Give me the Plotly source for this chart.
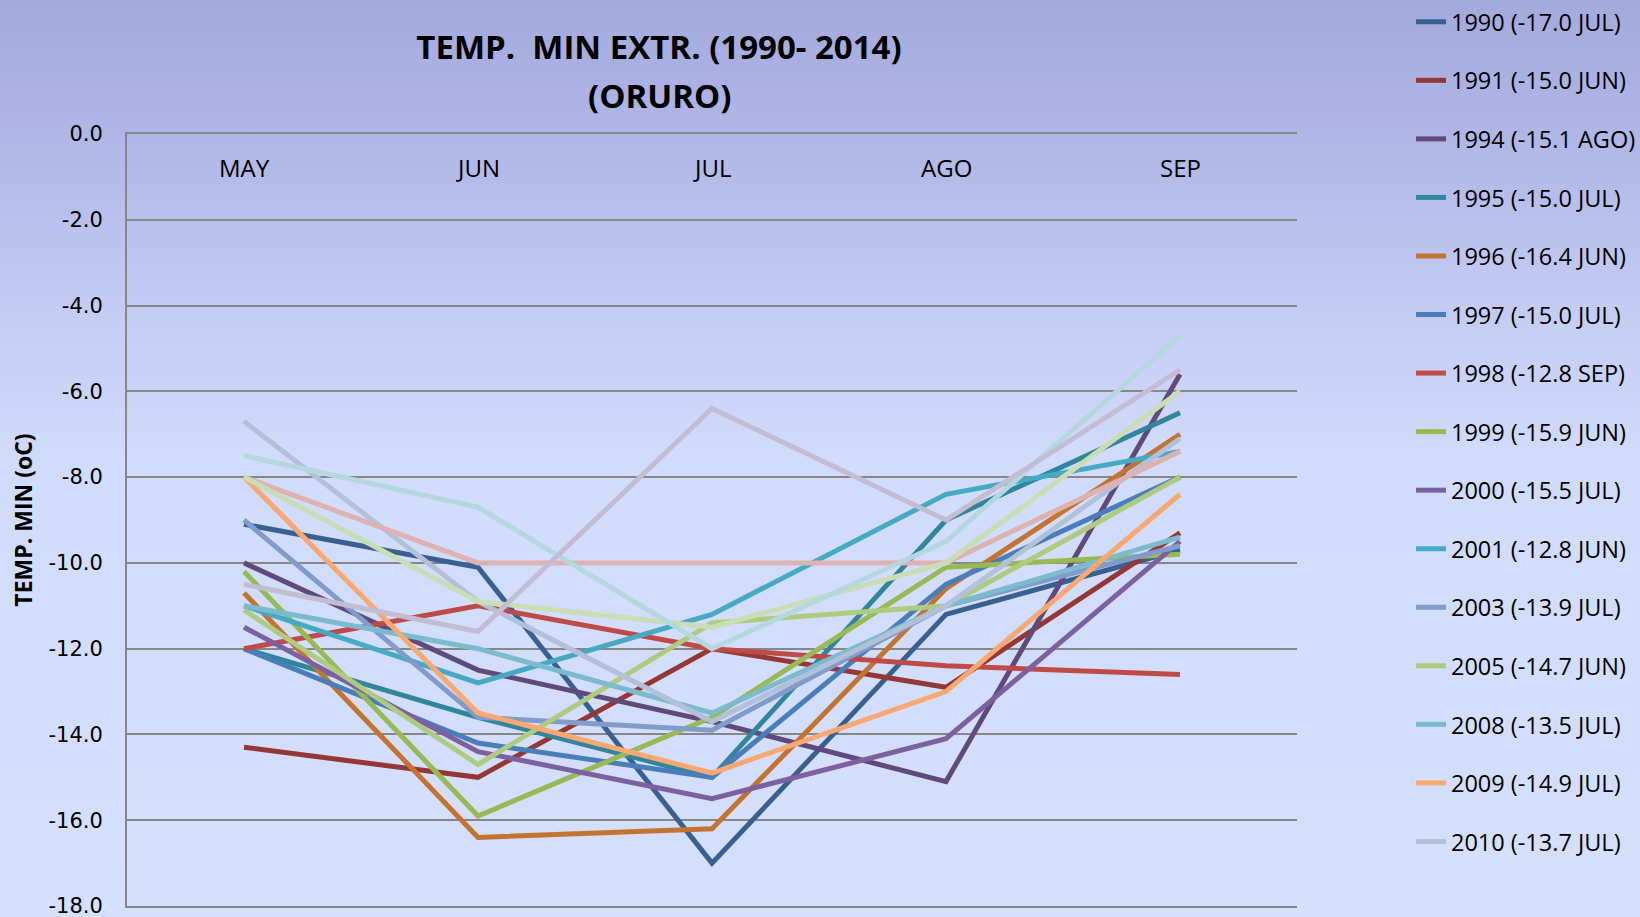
import base64
import plotly.graph_objects as go

# ---------------- data ----------------
months = ["MAY", "JUN", "JUL", "AGO", "SEP"]

series_names = [
    "1990 (-17.0 JUL)", "1991 (-15.0 JUN)", "1994 (-15.1 AGO)", "1995 (-15.0 JUL)",
    "1996 (-16.4 JUN)", "1997 (-15.0 JUL)", "1998 (-12.8 SEP)", "1999 (-15.9 JUN)",
    "2000 (-15.5 JUL)", "2001 (-12.8 JUN)", "2003 (-13.9 JUL)", "2005 (-14.7 JUN)",
    "2008 (-13.5 JUL)", "2009 (-14.9 JUL)", "2010 (-13.7 JUL)",
    "2011", "2012", "2013", "2014",
]

y1990 = [-9.1, -10.1, -17.0, -11.2, -9.7]
y1991 = [-14.3, -15.0, -12.0, -12.9, -9.3]
y1994 = [-10.0, -12.5, -13.7, -15.1, -5.6]
y1995 = [-12.0, -13.6, -15.0, -9.0, -6.5]
y1996 = [-10.7, -16.4, -16.2, -10.6, -7.0]
y1997 = [-12.0, -14.2, -15.0, -10.5, -8.0]
y1998 = [-12.0, -11.0, -12.0, -12.4, -12.6]
y1999 = [-10.2, -15.9, -13.6, -10.1, -9.8]
y2000 = [-11.5, -14.4, -15.5, -14.1, -9.5]
y2001 = [-11.0, -12.8, -11.2, -8.4, -7.4]
y2003 = [-9.0, -13.6, -13.9, -11.0, -9.6]
y2005 = [-11.1, -14.7, -11.4, -11.0, -8.0]
y2008 = [-11.0, -12.0, -13.5, -11.0, -9.4]
y2009 = [-8.0, -13.5, -14.9, -13.0, -8.4]
y2010 = [-6.7, -10.9, -13.7, -11.0, -7.1]
y2011 = [-8.0, -10.0, -10.0, -10.0, -7.4]
y2012 = [-8.0, -10.9, -11.5, -10.0, -6.0]
y2013 = [-7.5, -8.7, -12.0, -9.5, -4.7]
y2014 = [-10.5, -11.6, -6.4, -9.0, -5.5]

series_values = [y1990, y1991, y1994, y1995, y1996, y1997, y1998, y1999, y2000,
                 y2001, y2003, y2005, y2008, y2009, y2010, y2011, y2012, y2013, y2014]

colors = ["#386192", "#953735", "#604A7B", "#31859C", "#C47430", "#4A7EBB",
          "#BE4B48", "#98B954", "#7D60A0", "#46AAC5", "#7F9CCB", "#AECB80",
          "#7CBBCE", "#F8A870", "#B2C0D8", "#DDB3B1", "#CBDDB5", "#B5D8DE", "#C4BCD2"]

legend_count = 15  # entries visible in the (cut) legend

y_ticks = [0, -2, -4, -6, -8, -10, -12, -14, -16, -18]
y_tick_labels = ["0.0", "-2.0", "-4.0", "-6.0", "-8.0", "-10.0", "-12.0",
                 "-14.0", "-16.0", "-18.0"]

# ---------------- layout geometry ----------------
W, H = 1640, 917
ML, MR, MT, MB = 127, 343, 134, 11
PW, PH = W - ML - MR, H - MT - MB

svg = (
    f'<svg xmlns="http://www.w3.org/2000/svg" width="{W}" height="{H}">'
    '<defs><linearGradient id="g" x1="0" y1="0" x2="0" y2="1">'
    '<stop offset="0" stop-color="#A4A9DC"/>'
    '<stop offset="0.15" stop-color="#B0B6E6"/>'
    '<stop offset="0.33" stop-color="#C3CBF2"/>'
    '<stop offset="0.5" stop-color="#D1DBFB"/>'
    '<stop offset="1" stop-color="#D5E0FD"/>'
    '</linearGradient></defs>'
    f'<rect width="{W}" height="{H}" fill="url(#g)"/></svg>'
)
bg_src = "data:image/svg+xml;base64," + base64.b64encode(svg.encode()).decode()

fig = go.Figure()
for i, (name, vals, col) in enumerate(zip(series_names, series_values, colors)):
    fig.add_trace(go.Scatter(
        x=months, y=vals, name=name, mode="lines",
        line=dict(color=col, width=5),
        legendgroup=name, showlegend=i < legend_count,
    ))

# month labels placed inside the plot, just under the top edge (as in the source)
month_labels = [
    dict(text=m, xref="x", yref="paper", x=m, y=1 - 33 / PH,
         xanchor="center", yanchor="middle", showarrow=False,
         font=dict(family="Open Sans", size=24, color="#000000"))
    for m in months
]

fig.update_layout(
    width=W, height=H,
    margin=dict(l=ML, r=MR, t=MT, b=MB, autoexpand=False),
    paper_bgcolor="#D3DEFC",
    plot_bgcolor="rgba(0,0,0,0)",
    images=[dict(
        source=bg_src, xref="paper", yref="paper",
        x=-ML / PW, y=1 + MT / PH, sizex=W / PW, sizey=H / PH,
        xanchor="left", yanchor="top", sizing="stretch", layer="below",
    )],
    title=dict(
        text="<b>TEMP.  MIN EXTR. (1990- 2014)</b>",
        x=659 / W, xref="container", xanchor="center",
        y=1 - 47 / H, yref="container", yanchor="middle",
        font=dict(family="Open Sans", size=33, color="#000000"),
    ),
    annotations=[dict(
        text="<b>(ORURO)</b>", xref="paper", yref="paper",
        x=(659 - ML) / PW, y=1 + (MT - 95) / PH,
        xanchor="center", yanchor="middle", showarrow=False,
        font=dict(family="Open Sans", size=33, color="#000000"),
    )] + month_labels,
    legend=dict(
        x=(1411 - ML) / PW, xanchor="left",
        y=1 + MT / PH, yanchor="top",
        font=dict(family="Open Sans", size=23.5, color="#000000"),
        bgcolor="rgba(0,0,0,0)", tracegroupgap=25.0,
        traceorder="grouped", maxheight=H,
    ),
    showlegend=True,
    xaxis=dict(
        type="category", range=[-0.5, 4.5],
        showticklabels=False, ticks="",
        showgrid=False, zeroline=False,
        showline=True, mirror=True, linecolor="#878787", linewidth=2,
        fixedrange=True,
    ),
    yaxis=dict(
        range=[-18, 0], tickvals=y_ticks, ticktext=y_tick_labels,
        showgrid=True, gridcolor="#878787", gridwidth=2,
        zeroline=False, showline=True, linecolor="#878787", linewidth=2,
        ticks="", ticklabelstandoff=18, ticklabeloverflow="allow",
        tickfont=dict(family="DejaVu Sans", size=21, color="#000000"),
        title=dict(text="<b>TEMP. MIN (oC)</b>", standoff=9,
                   font=dict(family="Open Sans", size=23, color="#000000")),
        fixedrange=True,
    ),
)

fig.write_html(
    "out.html",
    config={"displayModeBar": False},
    post_script="document.body.style.margin='0';document.body.style.overflow='hidden';",
)
